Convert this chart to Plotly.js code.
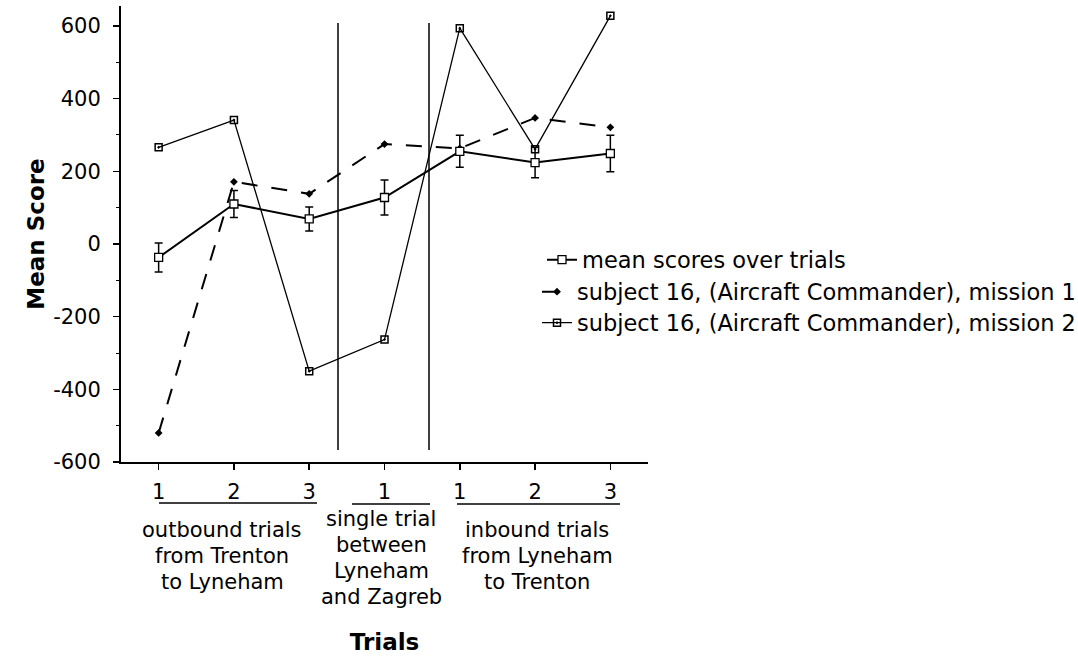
<!DOCTYPE html>
<html>
<head>
<meta charset="utf-8">
<script src="https://cdn.plot.ly/plotly-3.0.1.min.js"></script>
<style>html,body{margin:0;padding:0;background:#fff;}#chart{width:1078px;height:662px;}</style>
</head>
<body>
<div id="chart"></div>
<script>
// ---- data ----
var trialPos = [1, 2, 3, 4, 5, 6, 7];
var tickText = ['1', '2', '3', '1', '1', '2', '3'];
var yTickVals = [-600, -400, -200, 0, 200, 400, 600];
var meanScores = [-37, 110, 69, 128, 255, 224, 249];
var meanErr = [40, 37, 33, 48, 44, 42, 50];
var mission1 = [-520, 171, 138, 275, 263, 347, 321];
var mission2 = [266, 341, -350, -263, 594, 261, 628];
var seriesNames = [
  'mean scores over trials',
  'subject 16, (Aircraft Commander), mission 1',
  'subject 16, (Aircraft Commander), mission 2'
];
var groupLines = [
  ['outbound trials', 'from Trenton', 'to Lyneham'],
  ['single trial', 'between', 'Lyneham', 'and Zagreb'],
  ['inbound trials', 'from Lyneham', 'to Trenton']
];
var xTitle = 'Trials';
var yTitle = 'Mean Score';

// ---- layout helpers (pixel geometry of the plot area) ----
var L = 121, R = 648, T = 6, B = 462;
var XR = [0.5, 7.5];
function pxToX(px) { return XR[0] + (px - L) / (R - L) * (XR[1] - XR[0]); }
function pyToPaper(py) { return (B - py) / (B - T); }
function pxToPaper(px) { return (px - L) / (R - L); }

var FONT = 'DejaVu Sans';

var traces = [
  {
    x: trialPos, y: mission2, name: seriesNames[2], legend: 'legend3',
    mode: 'lines+markers', type: 'scatter',
    line: {color: '#000', width: 1.3},
    marker: {symbol: 'square-open-dot', size: 7, color: '#000', line: {width: 1.5, color: '#000'}}
  },
  {
    x: trialPos, y: mission1, name: seriesNames[1], legend: 'legend2',
    mode: 'lines+markers', type: 'scatter',
    line: {color: '#000', width: 2, dash: '16px,14px'},
    marker: {symbol: 'diamond', size: 6, color: '#000'}
  },
  {
    x: trialPos, y: meanScores, name: seriesNames[0], legend: 'legend',
    mode: 'lines+markers', type: 'scatter',
    line: {color: '#000', width: 2},
    error_y: {type: 'data', array: meanErr, visible: true, color: '#000', thickness: 1.5, width: 4},
    marker: {symbol: 'square', size: 8, color: '#fff', line: {width: 1.3, color: '#000'}}
  }
];

var shapes = [
  {type: 'line', xref: 'x', yref: 'y', x0: pxToX(338), x1: pxToX(338), y0: -567, y1: 608, line: {color: '#000', width: 1.5}},
  {type: 'line', xref: 'x', yref: 'y', x0: pxToX(429), x1: pxToX(429), y0: -567, y1: 608, line: {color: '#000', width: 1.5}},
  {type: 'line', xref: 'x', yref: 'paper', x0: pxToX(159), x1: pxToX(317), y0: pyToPaper(503), y1: pyToPaper(503), line: {color: '#000', width: 1.5}},
  {type: 'line', xref: 'x', yref: 'paper', x0: pxToX(352), x1: pxToX(430), y0: pyToPaper(504), y1: pyToPaper(504), line: {color: '#000', width: 1.5}},
  {type: 'line', xref: 'x', yref: 'paper', x0: pxToX(457), x1: pxToX(620), y0: pyToPaper(504), y1: pyToPaper(504), line: {color: '#000', width: 1.5}}
];

var groupCenters = [222, 381, 537];
var groupTops = [530, 519, 530];
var annotations = [];
groupLines.forEach(function (lines, g) {
  lines.forEach(function (txt, i) {
    annotations.push({
      text: txt, showarrow: false, xref: 'x', yref: 'paper',
      x: pxToX(groupCenters[g]), y: pyToPaper(groupTops[g] + i * 26),
      xanchor: 'center', yanchor: 'middle',
      font: {family: FONT, size: 21, color: '#000'}
    });
  });
});

function legendAt(px, py) {
  return {
    x: pxToPaper(px), y: pyToPaper(py), xanchor: 'left', yanchor: 'middle',
    bgcolor: 'rgba(0,0,0,0)', borderwidth: 0,
    font: {family: FONT, size: 22.5, color: '#000'}
  };
}

var layout = {
  width: 1078, height: 662,
  margin: {l: L, r: 1078 - R, t: T, b: 662 - B, autoexpand: false},
  paper_bgcolor: '#fff', plot_bgcolor: '#fff',
  font: {family: FONT, color: '#000'},
  showlegend: true,
  legend: legendAt(542, 260),
  legend2: legendAt(537, 292),
  legend3: legendAt(537, 323),
  xaxis: {
    range: XR, showgrid: false, zeroline: false,
    showline: true, linecolor: '#000', linewidth: 2,
    tickmode: 'array', tickvals: trialPos, ticktext: tickText,
    ticks: 'outside', ticklen: 6, tickwidth: 1.5, tickcolor: '#000',
    ticklabelstandoff: 4,
    tickfont: {family: FONT, size: 21, color: '#000'},
    title: {text: xTitle, standoff: 131, font: {family: FONT, size: 23, color: '#000', weight: 'bold'}}
  },
  yaxis: {
    range: [-600, 655], showgrid: false, zeroline: false,
    showline: true, linecolor: '#000', linewidth: 2,
    tickmode: 'array', tickvals: yTickVals, ticktext: yTickVals.map(String),
    ticks: 'outside', ticklen: 6, tickwidth: 1.5, tickcolor: '#000',
    minor: {dtick: 100, tick0: -600, ticks: 'outside', ticklen: 3, tickcolor: '#000', tickwidth: 1},
    ticklabelstandoff: 8,
    tickfont: {family: FONT, size: 21, color: '#000'},
    title: {text: yTitle, standoff: 2, font: {family: FONT, size: 23, color: '#000', weight: 'bold'}}
  },
  shapes: shapes,
  annotations: annotations
};

Plotly.newPlot('chart', traces, layout, {displayModeBar: false, staticPlot: true});
</script>
</body>
</html>
